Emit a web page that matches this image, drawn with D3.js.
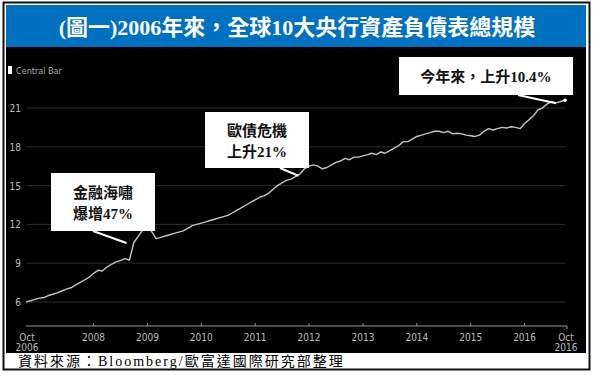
<!DOCTYPE html>
<html>
<head>
<meta charset="utf-8">
<script src="https://cdn.jsdelivr.net/npm/d3@7"></script>
<style>
  body { margin: 0; background: #fff; }
  svg { display: block; }
</style>
</head>
<body>
<svg id="chart" width="593" height="376"></svg>
<script>
// monthly balance sheet total (USD trn), Oct 2006 .. Oct 2016
const v2006 = [6.0, 6.1, 6.2];
const v2007 = [6.3, 6.35, 6.5, 6.6, 6.7, 6.85, 7.0, 7.1, 7.3, 7.5, 7.7, 7.9];
const v2008 = [8.2, 8.45, 8.4, 8.7, 8.9, 9.1, 9.2, 9.35, 9.25, 10.6, 11.1, 11.6];
const v2009 = [12.0, 11.4, 10.9, 11.0, 11.1, 11.2, 11.3, 11.4, 11.5, 11.7, 11.9, 12.0];
const v2010 = [12.1, 12.2, 12.3, 12.4, 12.5, 12.6, 12.7, 12.9, 13.1, 13.3, 13.5, 13.7];
const v2011 = [13.9, 14.1, 14.2, 14.4, 14.7, 15.0, 15.2, 15.4, 15.5, 15.7, 15.9, 16.3];
const v2012 = [16.5, 16.6, 16.5, 16.3, 16.4, 16.6, 16.8, 16.9, 17.1, 17.0, 17.2, 17.2];
const v2013 = [17.3, 17.4, 17.5, 17.4, 17.6, 17.5, 17.7, 17.9, 18.1, 18.4, 18.4, 18.6];
const v2014 = [18.8, 18.9, 19.0, 19.1, 19.2, 19.2, 19.1, 19.2, 19.0, 19.05, 19.0, 18.9];
const v2015 = [18.85, 18.8, 18.9, 19.2, 19.4, 19.3, 19.4, 19.5, 19.45, 19.55, 19.5, 19.4];
const v2016 = [19.8, 20.1, 20.4, 20.85, 21.0, 21.3, 21.5, 21.4, 21.5, 21.6];

const yTicks = [6, 9, 12, 15, 18, 21];
const xYears = [2008, 2009, 2010, 2011, 2012, 2013, 2014, 2015, 2016];

const title = "(圖一)2006年來，全球10大央行資產負債表總規模";
const source = "資料來源：Bloomberg/歐富達國際研究部整理";
const notes = [
  { lines: ["金融海嘯", "爆增47%"], date: new Date(2008, 8, 1) },
  { lines: ["歐債危機", "上升21%"], date: new Date(2011, 11, 1) },
  { lines: ["今年來，上升10.4%"], date: new Date(2016, 9, 1) }
];

const values = [].concat(v2006, v2007, v2008, v2009, v2010, v2011, v2012, v2013, v2014, v2015, v2016);
const start = new Date(2006, 9, 1), end = new Date(2016, 9, 1);
const data = d3.timeMonth.range(start, d3.timeMonth.offset(end, 1))
    .map((d, i) => ({ date: d, value: values[i] }));

var svg = d3.select("#chart");

// frame
svg.append("rect").attr("x", 3.5).attr("y", 2.5).attr("width", 586).attr("height", 367)
    .attr("fill", "#fff").attr("stroke", "#111").attr("stroke-width", 2);
svg.append("rect").attr("x", 6).attr("y", 5).attr("width", 580).attr("height", 42).attr("fill", "#0070c0");
svg.append("rect").attr("x", 6).attr("y", 47).attr("width", 580).attr("height", 306).attr("fill", "#000");

svg.append("text")
    .attr("x", 297).attr("y", 35)
    .attr("text-anchor", "middle")
    .attr("fill", "#fff")
    .style("font", "bold 22px 'Liberation Serif', 'Noto Sans CJK TC', serif")
    .text(title);

svg.append("text")
    .attr("x", 18).attr("y", 366)
    .attr("fill", "#000")
    .style("font", "14px 'Liberation Serif', 'Noto Sans CJK TC', serif")
    .style("letter-spacing", "2px")
    .text(source);

var x = d3.scaleTime().domain([start, end]).range([26, 565]);
var y = d3.scaleLinear().domain([6, 21]).range([302, 108]);

// legend
svg.append("rect").attr("x", 8).attr("y", 66).attr("width", 4).attr("height", 8).attr("fill", "#fff");
svg.append("text").attr("x", 16).attr("y", 74)
    .attr("fill", "#aaa")
    .style("font", "9px 'DejaVu Sans Condensed', 'DejaVu Sans', sans-serif")
    .text("Central Bar");

// grid + y labels
var grid = svg.append("g");
grid.selectAll("line").data(yTicks).enter().append("line")
    .attr("x1", 27).attr("x2", 565)
    .attr("y1", d => y(d)).attr("y2", d => y(d))
    .attr("stroke", "#2e2e2e").attr("stroke-width", 1);
grid.selectAll("text").data(yTicks).enter().append("text")
    .attr("x", 21).attr("y", d => y(d) + 4)
    .attr("text-anchor", "end")
    .attr("fill", "#bbb")
    .style("font", "10px 'DejaVu Sans Condensed', 'DejaVu Sans', sans-serif")
    .text(d => d);

// x axis
var axisY = 326;
var ax = svg.append("g").attr("transform", "translate(0," + axisY + ")");
ax.append("line").attr("x1", x(start)).attr("x2", x(end) + 2)
    .attr("stroke", "#999").attr("stroke-width", 1);
ax.selectAll(".tk").data(xYears).enter().append("line")
    .attr("x1", d => x(new Date(d, 0, 1))).attr("x2", d => x(new Date(d, 0, 1)))
    .attr("y1", -3).attr("y2", 0)
    .attr("stroke", "#999");
ax.append("line").attr("x1", x(end) + 2).attr("x2", x(end) + 2).attr("y1", 0).attr("y2", 3).attr("stroke", "#999");
var tickFont = "10px 'DejaVu Sans Condensed', 'DejaVu Sans', sans-serif";
ax.selectAll(".yl").data(xYears).enter().append("text")
    .attr("x", d => x(new Date(d, 0, 1)))
    .attr("y", 15)
    .attr("text-anchor", "middle")
    .attr("fill", "#bbb")
    .style("font", tickFont)
    .text(d => d);
[start, end].forEach(d => {
  var t = ax.append("text").attr("text-anchor", "middle").attr("fill", "#bbb").style("font", tickFont);
  t.append("tspan").attr("x", x(d) + 1).attr("y", 15).text("Oct");
  t.append("tspan").attr("x", x(d) + 1).attr("y", 25).text(d.getFullYear());
});

// line
var line = d3.line().x(d => x(d.date)).y(d => y(d.value));
svg.append("path").datum(data)
    .attr("fill", "none")
    .attr("stroke", "#c4c4c4")
    .attr("stroke-width", 1.4)
    .attr("stroke-linejoin", "round")
    .attr("d", line);

// annotations
var boxes = [
  { x: 51, y: 173, w: 104, h: 58, px: 93, py: 231, tx: -3, ty: -17 },
  { x: 205, y: 112, w: 104, h: 56, px: 280, py: 168, tx: -6, ty: 7 },
  { x: 399, y: 57, w: 174, h: 38, px: 518, py: 95, tx: -9, ty: 3 }
];
notes.forEach((n, i) => {
  var b = boxes[i];
  var pt = data.find(d => +d.date === +n.date);
  svg.append("line")
      .attr("x1", b.px).attr("y1", b.py)
      .attr("x2", x(pt.date) + b.tx).attr("y2", y(pt.value) + b.ty)
      .attr("stroke", "#fff").attr("stroke-width", 2);
  svg.append("rect").attr("x", b.x).attr("y", b.y).attr("width", b.w).attr("height", b.h)
      .attr("fill", "#fff");
  var t = svg.append("text")
      .attr("text-anchor", "middle")
      .attr("fill", "#111")
      .style("font", "bold 15px 'Liberation Serif', 'Noto Sans CJK TC', serif");
  n.lines.forEach((l, j) => {
    t.append("tspan").attr("x", b.x + b.w / 2)
        .attr("y", b.y + b.h / 2 + 6 + (j - (n.lines.length - 1) / 2) * 21)
        .text(l);
  });
});
svg.append("circle").attr("cx", x(end)).attr("cy", y(values[values.length - 1]))
    .attr("r", 1.8).attr("fill", "#fff");
</script>
</body>
</html>
